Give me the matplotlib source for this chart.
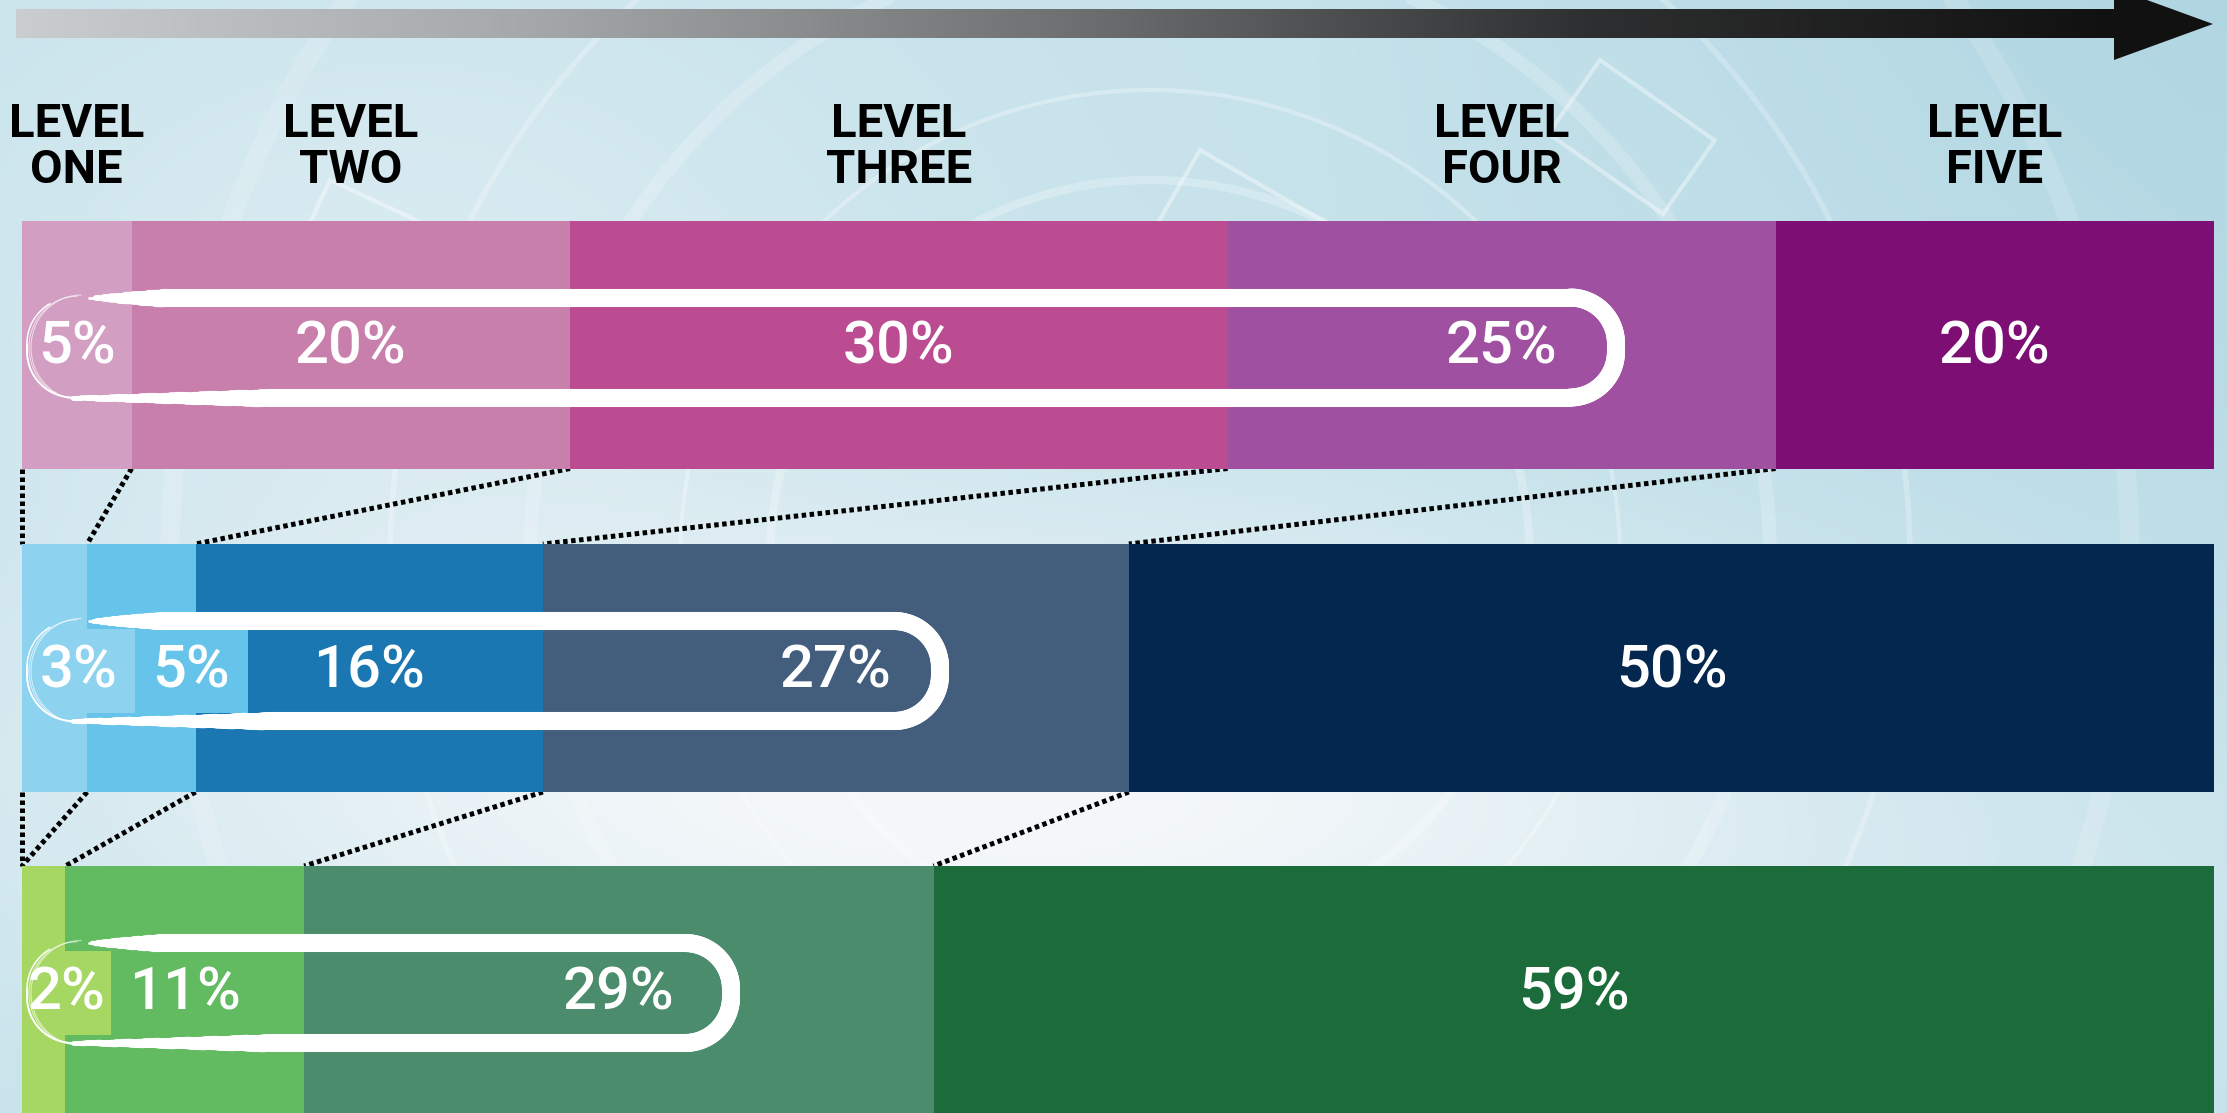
import numpy as np
import matplotlib.pyplot as plt
from matplotlib.colors import LinearSegmentedColormap, to_rgb
from matplotlib.collections import LineCollection
from matplotlib.patches import Polygon

plt.rcParams['font.family'] = ['Roboto', 'DejaVu Sans']

# data
levels = ['LEVEL\nONE', 'LEVEL\nTWO', 'LEVEL\nTHREE', 'LEVEL\nFOUR', 'LEVEL\nFIVE']
top_vals = [5, 20, 30, 25, 20]
mid_vals = [3, 5, 16, 27, 50]
bot_vals = [2, 11, 29, 59]
top_labels = ['5%', '20%', '30%', '25%', '20%']
mid_labels = ['3%', '5%', '16%', '27%', '50%']
bot_labels = ['2%', '11%', '29%', '59%']

top_colors = ['#d29ec2', '#c97fac', '#bb4c91', '#a050a0', '#7c0e74']
mid_colors = ['#8dd2ef', '#66c4ea', '#1a77b2', '#435e7c', '#03274f']
bot_colors = ['#a7d763', '#62bb60', '#4a8c6b', '#1c6b3b']

# small segments are widened inside the highlight loop so the labels fit
mid_inset = [5.15, 5.15]
bot_inset = [4.05]

W, H = 2227, 1113
x0_px, x1_px = 22, 2214          # where 0% and 100% sit
bar_h = 248
rows_y = [344.5, 668, 990]       # bar centres (pixels from top)
loop_right = [1616, 940, 731]    # right end of the white loops

fig = plt.figure(figsize=(W / 100, H / 100), dpi=100)

# ---- background (soft techy blue) ----
axb = fig.add_axes([0, 0, 1, 1], zorder=0)
axb.set_xlim(0, W)
axb.set_ylim(H, 0)
axb.axis('off')
gx, gy = np.meshgrid(np.linspace(0, W, 400), np.linspace(0, H, 200))
c_blue = np.array(to_rgb('#c6e2eb'))
c_white = np.array(to_rgb('#f5f8fa'))
c_deep = np.array(to_rgb('#a2cfdd'))
w = np.exp(-(((gx - 1000) / 900) ** 2 + ((gy - 800) / 260) ** 2))
w = np.clip(w + 0.4 * np.exp(-(((gx - 400) / 500) ** 2 + ((gy - 300) / 350) ** 2)), 0, 1)
d = np.clip((gx - 1300) / 900, 0, 1) * np.clip(1 - gy / 900, 0, 1)
img = c_blue * (1 - w[..., None]) + c_white * w[..., None]
img = img * (1 - 0.6 * d[..., None]) + c_deep * 0.6 * d[..., None]
axb.imshow(img, extent=[0, W, H, 0], aspect='auto', interpolation='bilinear')
t = np.linspace(0, 2 * np.pi, 400)
for rad, lw, a in [(380, 6, 0.25), (470, 3, 0.3), (620, 10, 0.2), (760, 4, 0.25), (980, 14, 0.15)]:
    axb.plot(1150 + rad * np.cos(t), 560 + rad * np.sin(t), color='white', lw=lw, alpha=a)
for xs, ys, ww, hh, ang in [(1200, 150, 170, 110, 30), (1600, 60, 140, 90, 35), (330, 180, 120, 160, 25), (1750, 560, 160, 120, 20)]:
    rr = np.radians(ang)
    pts = np.array([[0, 0], [ww, 0], [ww, hh], [0, hh]])
    rot = pts @ np.array([[np.cos(rr), np.sin(rr)], [-np.sin(rr), np.cos(rr)]])
    axb.add_patch(Polygon(rot + [xs, ys], closed=True, fill=False, ec='white', lw=3, alpha=0.4))

# ---- bars ----
ax = fig.add_axes([0, 0, 1, 1], zorder=1)
ax.patch.set_alpha(0)
scale = (x1_px - x0_px) / 100
ax.set_xlim(-x0_px / scale, 100 + (W - x1_px) / scale)
ax.set_ylim(H, 0)
ax.axis('off')

rows = [(top_vals, top_colors, top_labels, None),
        (mid_vals, mid_colors, mid_labels, mid_inset),
        (bot_vals, bot_colors, bot_labels, bot_inset)]
bounds = []
for (vals, cols, labs, inset), yc in zip(rows, rows_y):
    widths = np.array(vals) / sum(vals) * 100
    lefts = np.concatenate([[0], np.cumsum(widths)[:-1]])
    bounds.append(lefts)
    ax.barh(yc, widths, left=lefts, height=bar_h, color=cols, linewidth=0, zorder=3)
    ly = yc + 3
    centres = lefts + widths / 2
    if inset:
        il = np.concatenate([[0], np.cumsum(inset)[:-1]])
        ax.barh(ly, inset, left=il, height=84, color=cols[:len(inset)], linewidth=0, zorder=4)
        centres[:len(inset)] = il + np.array(inset) / 2
    for cx, lab in zip(centres, labs):
        ax.text(cx, ly, lab, color='white', fontsize=43, fontweight='medium',
                ha='center', va='center', zorder=6)

# headers over the top bar segments
top_w = np.array(top_vals) / sum(top_vals) * 100
for cx, lab in zip(bounds[0] + top_w / 2, levels):
    ax.text(cx, 147, lab, fontsize=34, fontweight='bold', ha='center', va='center',
            linespacing=1.05, color='black')

# dotted connectors between bars
for i in range(2):
    upper = list(bounds[i])
    lower = list(bounds[i + 1])
    lower = [0] * (len(upper) - len(lower)) + lower
    ya = rows_y[i] + bar_h / 2
    yb = rows_y[i + 1] - bar_h / 2
    for a, b in zip(upper, lower):
        ax.plot([a, b], [ya, yb], color='black', lw=3.6, ls=(0, (0.9, 0.7)), zorder=2)

# ---- overlay: arrow + white loops ----
axo = fig.add_axes([0, 0, 1, 1], zorder=2)
axo.patch.set_alpha(0)
axo.set_xlim(0, W)
axo.set_ylim(H, 0)
axo.axis('off')

grad = np.linspace(0, 1, 256)[None, :]
cmap = LinearSegmentedColormap.from_list('arr', ['#c9cdd0', '#a4a7a9', '#6f7072', '#2e2f30', '#111111'])
axo.imshow(grad, extent=[16, 2116, 38, 9], cmap=cmap, aspect='auto', zorder=3)
axo.add_patch(Polygon([[2114, -12], [2213, 24], [2114, 60]], closed=True, fc='#111111', ec='none', zorder=3))


def brush_loop(ax, xl, xr, yc, half=50, r=46, full=13.0):
    pts, lws = [], []
    ytop, ybot = yc - half, yc + half
    xs = xl + 62
    # top stroke (tapered start)
    for x in np.linspace(xs, xr - r, 200):
        pts.append((x, ytop))
        lws.append(full * min(1, 0.15 + ((x - xs) / 90) ** 0.7))
    for a in np.linspace(0, np.pi / 2, 30):
        pts.append((xr - r + r * np.sin(a), ytop + r - r * np.cos(a)))
        lws.append(full)
    for y in np.linspace(ytop + r, ybot - r, 10):
        pts.append((xr, y))
        lws.append(full)
    for a in np.linspace(0, np.pi / 2, 30):
        pts.append((xr - r + r * np.cos(a), ybot - r + r * np.sin(a)))
        lws.append(full)
    for x in np.linspace(xr - r, xl + r, 200):
        pts.append((x, ybot))
        f = np.clip((x - (xl + r)) / 200, 0, 1)
        lws.append(full * (0.25 + 0.75 * f))
    for a in np.linspace(0, np.pi / 2, 30):
        pts.append((xl + r - r * np.sin(a), ybot - r + r * np.cos(a)))
        lws.append(1.3)
    for y in np.linspace(ybot - r, ytop + r, 10):
        pts.append((xl, y))
        lws.append(1.3)
    for a in np.linspace(0, np.pi / 3, 20):
        pts.append((xl + r - r * np.cos(a), ytop + r - r * np.sin(a)))
        lws.append(1.0)
    pts = np.array(pts)
    segs = np.stack([pts[:-1], pts[1:]], axis=1)
    lc = LineCollection(segs, linewidths=lws[:-1], colors='white', capstyle='round', zorder=5)
    ax.add_collection(lc)
    # faint extra brush hairs on the left end
    for off in (4, 8):
        tt = np.linspace(np.pi / 2, 3 * np.pi / 2, 60)
        ax.plot(xl + r + off + (r + off * 0.5) * np.cos(tt), yc - (half + off * 0.3) * np.sin(tt),
                color='white', lw=0.8, alpha=0.6, zorder=5)


for yc, xr in zip(rows_y, loop_right):
    brush_loop(axo, 27, xr, yc + 3)

fig.savefig('out.png', dpi=100)
